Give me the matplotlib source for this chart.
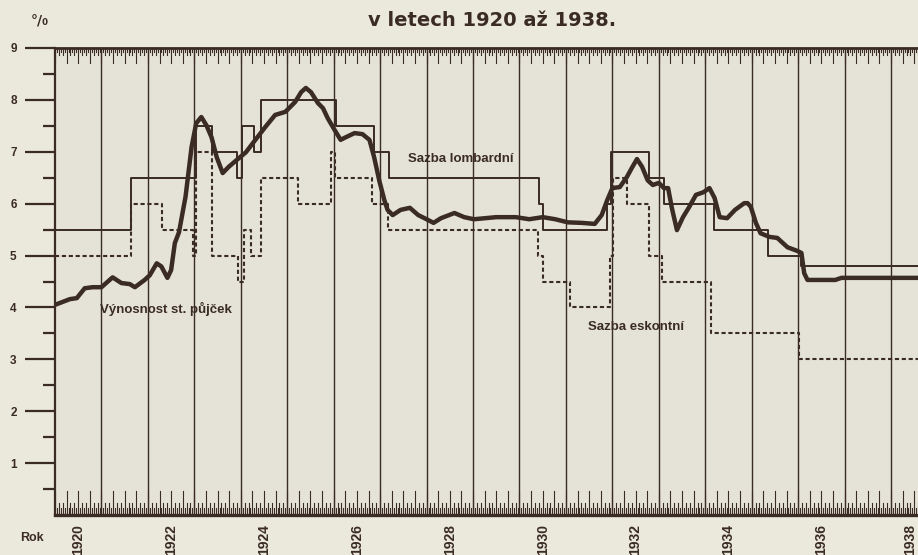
import numpy as np
import matplotlib
matplotlib.use('Agg')
import matplotlib.pyplot as plt

# Výnosnost st. půjček (%)
vynos_rok = [1920.00, 1920.32, 1920.47, 1920.64, 1920.81, 1921.00, 1921.24, 1921.43, 1921.61,
             1921.72, 1921.93, 1922.04, 1922.19, 1922.29, 1922.42, 1922.50, 1922.58, 1922.67,
             1922.77, 1922.81, 1922.94, 1923.04, 1923.15, 1923.26, 1923.37, 1923.48, 1923.61,
             1923.74, 1923.91, 1924.11, 1924.28, 1924.53, 1924.74, 1924.96, 1925.17, 1925.30,
             1925.40, 1925.51, 1925.66, 1925.77, 1925.87, 1926.02, 1926.15, 1926.26, 1926.45,
             1926.62, 1926.77, 1926.87, 1926.98, 1927.09, 1927.16, 1927.27, 1927.44, 1927.64,
             1927.82, 1928.00, 1928.15, 1928.31, 1928.60, 1928.81, 1929.02, 1929.50, 1929.92,
             1930.21, 1930.50, 1930.77, 1931.04, 1931.34, 1931.62, 1931.77, 1931.89, 1932.00,
             1932.16, 1932.31, 1932.42, 1932.53, 1932.64, 1932.76, 1932.87, 1933.00, 1933.11,
             1933.20, 1933.28, 1933.39, 1933.52, 1933.65, 1933.80, 1933.96, 1934.09, 1934.20,
             1934.31, 1934.47, 1934.64, 1934.84, 1934.91, 1934.98, 1935.09, 1935.19, 1935.38,
             1935.55, 1935.77, 1935.98, 1936.07, 1936.13, 1936.20, 1936.80, 1936.93, 1938.60]
vynos_pct = [4.05, 4.16, 4.18, 4.37, 4.39, 4.39, 4.58, 4.47, 4.45,
             4.39, 4.53, 4.62, 4.85, 4.79, 4.57, 4.72, 5.24, 5.45,
             5.94, 6.13, 7.09, 7.55, 7.67, 7.51, 7.28, 6.90, 6.59,
             6.71, 6.84, 6.99, 7.19, 7.48, 7.71, 7.77, 7.96, 8.15,
             8.23, 8.15, 7.94, 7.84, 7.65, 7.42, 7.23, 7.28, 7.36,
             7.34, 7.23, 6.90, 6.45, 6.07, 5.88, 5.78, 5.88, 5.92,
             5.78, 5.70, 5.63, 5.72, 5.82, 5.74, 5.70, 5.74, 5.74,
             5.70, 5.74, 5.70, 5.64, 5.63, 5.61, 5.78, 6.07, 6.30,
             6.32, 6.51, 6.69, 6.86, 6.71, 6.45, 6.36, 6.40, 6.30,
             6.30, 5.92, 5.49, 5.74, 5.93, 6.17, 6.22, 6.30, 6.11,
             5.74, 5.72, 5.88, 6.01, 6.01, 5.94, 5.63, 5.43, 5.36,
             5.34, 5.16, 5.09, 5.05, 4.66, 4.53, 4.53, 4.57, 4.57]

# Sazba lombardní (%), step changes
lomb_rok = [1920.00, 1921.63, 1923.04, 1923.37, 1923.91, 1924.02, 1924.28, 1924.43, 1926.06,
            1926.87, 1927.20, 1930.42, 1930.50, 1931.89, 1931.98, 1932.78, 1933.11, 1934.18,
            1935.34, 1936.07, 1938.60]
lomb_pct = [5.5, 6.5, 7.5, 7.0, 6.5, 7.5, 7.0, 8.0, 7.5,
            7.0, 6.5, 6.0, 5.5, 6.0, 7.0, 6.5, 6.0, 5.5,
            5.0, 4.8, 4.8]

# Sazba eskontní (%), step changes
esk_rok = [1920.00, 1921.63, 1922.31, 1922.98, 1923.04, 1923.37, 1923.93, 1924.06, 1924.21,
           1924.43, 1925.23, 1925.94, 1926.02, 1926.83, 1927.16, 1930.40, 1930.50, 1931.09,
           1931.94, 1932.02, 1932.31, 1932.78, 1933.07, 1934.13, 1936.02, 1938.60]
esk_pct = [5.0, 6.0, 5.5, 5.0, 7.0, 5.0, 4.5, 5.5, 5.0,
           6.5, 6.0, 7.0, 6.5, 6.0, 5.5, 5.0, 4.5, 4.0,
           5.0, 6.5, 6.0, 5.0, 4.5, 3.5, 3.0, 3.0]

roky_popis = [1920, 1922, 1924, 1926, 1928, 1930, 1932, 1934, 1936, 1938]

ink = '#3a2b25'
paper = '#ebe8dc'
pole = '#e5e3d8'
bold_font = ['Liberation Sans', 'DejaVu Sans']

fig = plt.figure(figsize=(9.18, 5.55), dpi=100, facecolor=paper)
ax = fig.add_axes([55 / 918, 40 / 555, 863 / 918, 467 / 555])
ax.set_facecolor(pole)
ax.set_xlim(1920, 1938.58)
ax.set_ylim(0, 9)

# year columns
ax.vlines(np.arange(1921, 1939), 0, 9, color=ink, lw=1.0, zorder=1)

# month ruler along top and bottom
tr = ax.get_xaxis_transform()
h = 467.0
for k, x in enumerate(np.arange(1920, 1938.6, 1 / 24)):
    if k % 6 == 0:
        lb, lt = 24, 15
    elif k % 2 == 0:
        lb, lt = 12, 7
    else:
        lb, lt = 7, 4
    ax.plot([x, x], [0, lb / h], transform=tr, color=ink, lw=0.8, zorder=2, clip_on=False)
    ax.plot([x, x], [1, 1 - lt / h], transform=tr, color=ink, lw=0.8, zorder=2, clip_on=False)

ax.plot(esk_rok, esk_pct, drawstyle='steps-post', color=ink, lw=1.5,
        linestyle=(0, (2.0, 1.3)), zorder=3)
ax.plot(lomb_rok, lomb_pct, drawstyle='steps-post', color=ink, lw=1.4, zorder=4)
ax.plot(vynos_rok, vynos_pct, color=ink, lw=3.2, solid_capstyle='round',
        solid_joinstyle='round', zorder=5)

ax.spines['right'].set_visible(False)
ax.spines['left'].set_linewidth(1.6)
ax.spines['top'].set_linewidth(2.0)
ax.spines['bottom'].set_linewidth(2.4)
for s in ['left', 'top', 'bottom']:
    ax.spines[s].set_color(ink)

ax.set_xticks([])
ax.set_yticks(range(1, 10))
ax.set_yticks(np.arange(0.5, 9, 1), minor=True)
ax.tick_params(axis='y', which='major', length=21.6, width=1.6, color=ink, pad=6,
               labelsize=8.5, labelcolor=ink)
ax.tick_params(axis='y', which='minor', length=8.6, width=1.6, color=ink)
for lab in ax.get_yticklabels():
    lab.set_fontweight('bold')
    lab.set_family(bold_font)

for r in roky_popis:
    ax.text(min(r + 0.5, 1938.42), -0.02, str(r), transform=tr, rotation=90,
            ha='center', va='top', fontsize=10, fontweight='bold', family=bold_font,
            color=ink)

ax.text(1927.6, 6.86, 'Sazba lombardní', fontsize=9.5, fontweight='bold',
        family=bold_font, color=ink, va='center', zorder=6)
ax.text(1920.97, 3.97, 'Výnosnost st. půjček', fontsize=9.5, fontweight='bold',
        family=bold_font, color=ink, va='center', zorder=6)
ax.text(1931.48, 3.62, 'Sazba eskontní', fontsize=9.5, fontweight='bold',
        family=bold_font, color=ink, va='center', zorder=6)

fig.text(492 / 918, 1 - 20 / 555, 'v letech 1920 až 1938.', ha='center', va='center',
         fontsize=14, fontweight='bold', family=['DejaVu Sans'], color=ink)
fig.text(40 / 918, 1 - 20 / 555, '°/₀', ha='center', va='center', fontsize=10,
         fontweight='bold', family=['DejaVu Sans'], color=ink)
fig.text(32 / 918, 1 - 538 / 555, 'Rok', ha='center', va='center', fontsize=9,
         fontweight='bold', family=bold_font, color=ink)

fig.savefig('out.png', dpi=100, facecolor=paper)
